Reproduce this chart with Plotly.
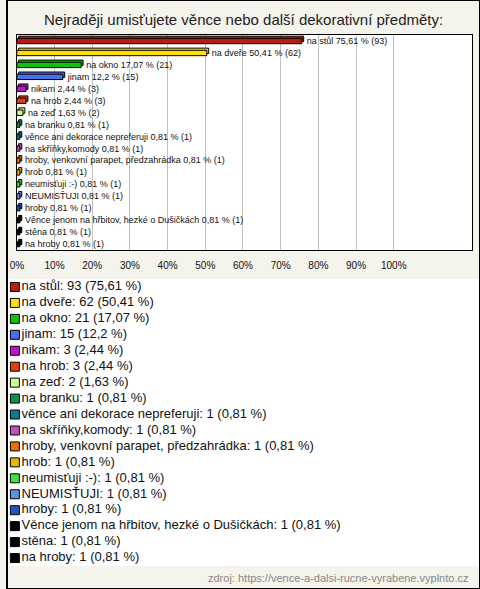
import plotly.graph_objects as go

categories = ["na stůl", "na dveře", "na okno", "jinam", "nikam", "na hrob", "na zeď",
              "na branku", "věnce ani dekorace nepreferuji", "na skříňky,komody",
              "hroby, venkovní parapet, předzahrádka", "hrob", "neumisťuji :-)",
              "NEUMISŤUJI", "hroby", "Věnce jenom na hřbitov, hezké o Dušičkách",
              "stěna", "na hroby"]
counts = [93, 62, 21, 15, 3, 3, 2, 1, 1, 1, 1, 1, 1, 1, 1, 1, 1, 1]
percents = [75.61, 50.41, 17.07, 12.2, 2.44, 2.44, 1.63, 0.81, 0.81, 0.81,
            0.81, 0.81, 0.81, 0.81, 0.81, 0.81, 0.81, 0.81]
colors = ["#b81c0c", "#ffe000", "#10c010", "#4870e8", "#c010d0", "#e04010", "#c8ff90",
          "#109050", "#107890", "#c050c0", "#e87000", "#e8b800", "#40e040",
          "#6090e0", "#2850c0", "#000000", "#000000", "#000000"]
tick_vals = [0, 10, 20, 30, 40, 50, 60, 70, 80, 90, 100]
tick_text = [f"{v}%" for v in tick_vals]

def fmt(p):
    return str(p).replace(".", ",")

bar_labels = ["\u00a0\u00a0" + f"{c} {fmt(p)} % ({n})" for c, p, n in zip(categories, percents, counts)]
legend_labels = [f"{c}: {n} ({fmt(p)} %)" for c, p, n in zip(categories, percents, counts)]

FONT = "Liberation Sans, Arial, sans-serif"
fig = go.Figure()

# 3D "depth" of bars
fig.add_trace(go.Bar(
    y=categories, x=percents, base=0.5, orientation="h",
    width=0.45, offset=-0.4,
    marker=dict(color=colors, line=dict(color="black", width=1)),
    hoverinfo="skip", showlegend=False, xaxis="x", yaxis="y"))
# front faces
fig.add_trace(go.Bar(
    y=categories, x=percents, orientation="h",
    width=0.45, offset=-0.22,
    marker=dict(color=colors, line=dict(color="black", width=1)),
    text=bar_labels, textposition="outside", constraintext="none",
    textfont=dict(size=9, color="#111", family=FONT), cliponaxis=False,
    showlegend=False, xaxis="x", yaxis="y"))

# legend rendered as a marker list
fig.add_trace(go.Scatter(
    x=[0] * len(categories), y=categories, mode="markers+text",
    marker=dict(symbol="square", size=9, color=colors, line=dict(color="black", width=1)),
    text=legend_labels, textposition="middle right",
    textfont=dict(size=13, color="#111", family=FONT), cliponaxis=False,
    showlegend=False, xaxis="x2", yaxis="y2"))

fig.update_layout(
    width=480, height=589,
    margin=dict(l=0, r=0, t=0, b=0),
    paper_bgcolor="#f4f3ec", plot_bgcolor="white",
    font=dict(family=FONT, color="#111"),
    barmode="overlay",
    xaxis=dict(domain=[10 / 480, 472 / 480], range=[0, 120.8], tickvals=tick_vals,
               ticktext=tick_text, showgrid=True, gridcolor="#c0c0c0", gridwidth=1,
               showline=True, linecolor="black", linewidth=1, mirror=True,
               zeroline=False, ticks="", ticklabelstandoff=6,
               tickfont=dict(size=10, color="#111")),
    yaxis=dict(domain=[1 - 250 / 589, 1 - 35 / 589], type="category",
               categoryorder="array", categoryarray=categories,
               range=[len(categories) - 0.5, -0.5],
               showticklabels=False, showgrid=False, showline=True, linecolor="black",
               linewidth=1, mirror=True, ticks="", zeroline=False),
    xaxis2=dict(domain=[0, 1], range=[-8, 472], visible=False, anchor="y2"),
    yaxis2=dict(domain=[1 - 566 / 589, 1 - 279 / 589], type="category",
                categoryorder="array", categoryarray=categories,
                range=[len(categories) - 0.5, -0.5], visible=False, anchor="x2"),
    annotations=[
        dict(text="Nejraději umisťujete věnce nebo další dekorativní předměty:",
             xref="paper", yref="paper", x=0.5, y=1 - 20 / 589, xanchor="center",
             yanchor="middle", showarrow=False, font=dict(size=15, color="#222")),
        dict(text="zdroj: https://vence-a-dalsi-rucne-vyrabene.vyplnto.cz",
             xref="paper", yref="paper", x=470 / 480, y=1 - 578 / 589, xanchor="right",
             yanchor="middle", showarrow=False, font=dict(size=11, color="#888")),
    ],
    shapes=[dict(type="rect", xref="paper", yref="paper", x0=0, x1=1, y0=0, y1=1,
                 line=dict(color="black", width=2), layer="above")],
)

fig.write_html("out.html", config={"displayModeBar": False},
               post_script="document.body.style.margin='0';document.body.style.padding='0';"
                           "document.body.style.overflow='hidden';")
